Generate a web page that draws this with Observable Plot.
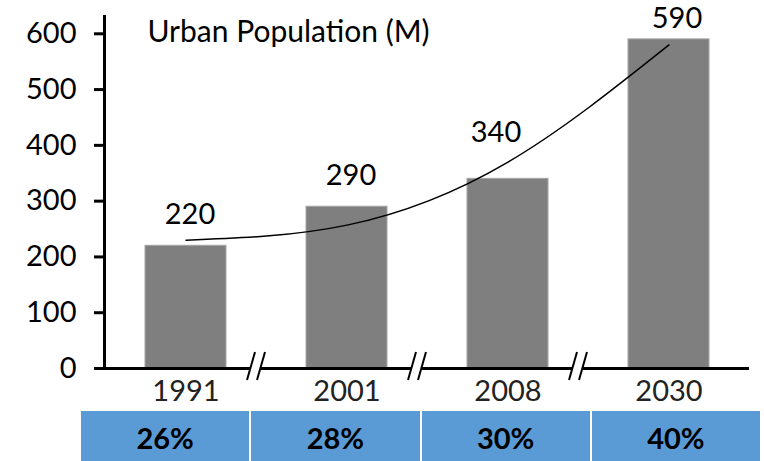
<!DOCTYPE html>
<html>
<head>
<meta charset="utf-8">
<script src="https://cdn.jsdelivr.net/npm/d3@7"></script>
<script src="https://cdn.jsdelivr.net/npm/@observablehq/plot@0.6"></script>
<style>
  body { margin: 0; background: #fff; font-family: Lato, "Open Sans", sans-serif; }
  #chart svg { display: block; }
  .table { display: flex; gap: 2px; margin-left: 81px; width: 679px; height: 50px; margin-top: 1px; }
  .cell { flex: 1; background: #5b9bd5; display: flex; align-items: center; justify-content: center;
          font-weight: 700; font-size: 29px; color: #000; padding-top: 3px; box-sizing: border-box; }
</style>
</head>
<body>
<div id="chart"></div>
<div class="table" id="table"></div>
<script>
const years = ["1991", "2001", "2008", "2030"];
const population = [220, 290, 340, 590];
const trendValues = [230, 257, 370, 580];
const urbanShare = ["26%", "28%", "30%", "40%"];
const yTicks = [0, 100, 200, 300, 400, 500, 600];
const title = "Urban Population (M)";

const bars = years.map((year, i) => ({year, value: population[i]}));
const trend = years.map((year, i) => ({year, value: trendValues[i]}));
const breaks = years.slice(1).map((year, i) => [years[i], year]);

const FONT = "Lato, 'Open Sans', sans-serif";
const FS = 29;

function breakMarks(index, scales, values, dims) {
  const g = d3.create("svg:g");
  const x = scales.x, bw = x.bandwidth();
  const y0 = scales.y(0);
  for (const [a, b] of breaks) {
    const cx = (x(a) + bw + x(b)) / 2 - 10;
    g.append("rect").attr("x", cx - 5).attr("y", y0 - 3).attr("width", 10).attr("height", 6).attr("fill", "#fff");
    for (const s of [-5, 5]) {
      g.append("line")
        .attr("x1", cx + s - 4).attr("y1", y0 + 12)
        .attr("x2", cx + s + 4).attr("y2", y0 - 16)
        .attr("stroke", "#000").attr("stroke-width", 2);
    }
  }
  return g.node();
}

const labelText = d => String(d.value);

const chart = Plot.plot({
  width: 764,
  height: 410,
  marginLeft: 104,
  marginRight: 15,
  marginTop: 16,
  marginBottom: 42,
  style: {fontFamily: FONT, background: "#fff", overflow: "visible"},
  x: {domain: years, paddingInner: 0.5, paddingOuter: 0.25, label: null},
  y: {domain: [0, 631], label: null},
  marks: [
    Plot.barY(bars, {x: "year", y: "value", fill: "#7f7f7f", stroke: "#a6a6a6", strokeWidth: 1}),
    Plot.line(trend, {x: "year", y: "value", curve: "natural", stroke: "#000", strokeWidth: 1.5}),
    Plot.axisY({ticks: yTicks, tickSize: 10, tickPadding: 18, fontSize: FS, strokeWidth: 3, color: "#000", label: null}),
    Plot.axisX({tickSize: 0, tickPadding: 12, fontSize: FS, color: "#222", label: null}),
    Plot.frame({anchor: "left", strokeWidth: 3, stroke: "#000"}),
    Plot.ruleY([0], {strokeWidth: 3, stroke: "#000"}),
    breakMarks,
    Plot.text(bars.filter(d => d.year === "1991" || d.year === "2001"),
      {x: "year", y: "value", text: labelText, dy: -31, dx: 4, fontSize: FS, fill: "#000"}),
    Plot.text(bars.filter(d => d.year === "2008"),
      {x: "year", y: "value", text: labelText, dy: -46, dx: -12, fontSize: FS, fill: "#000"}),
    Plot.text(bars.filter(d => d.year === "2030"),
      {x: "year", y: "value", text: labelText, dy: -21, dx: 8, fontSize: FS, fill: "#000"}),
    Plot.text([title], {frameAnchor: "top-left", dx: 43, dy: 16, lineAnchor: "middle", textAnchor: "start", fontSize: 30, fill: "#000"})
  ]
});
document.getElementById("chart").append(chart);

const table = document.getElementById("table");
for (const s of urbanShare) {
  const c = document.createElement("div");
  c.className = "cell";
  c.textContent = s;
  table.append(c);
}
</script>
</body>
</html>
